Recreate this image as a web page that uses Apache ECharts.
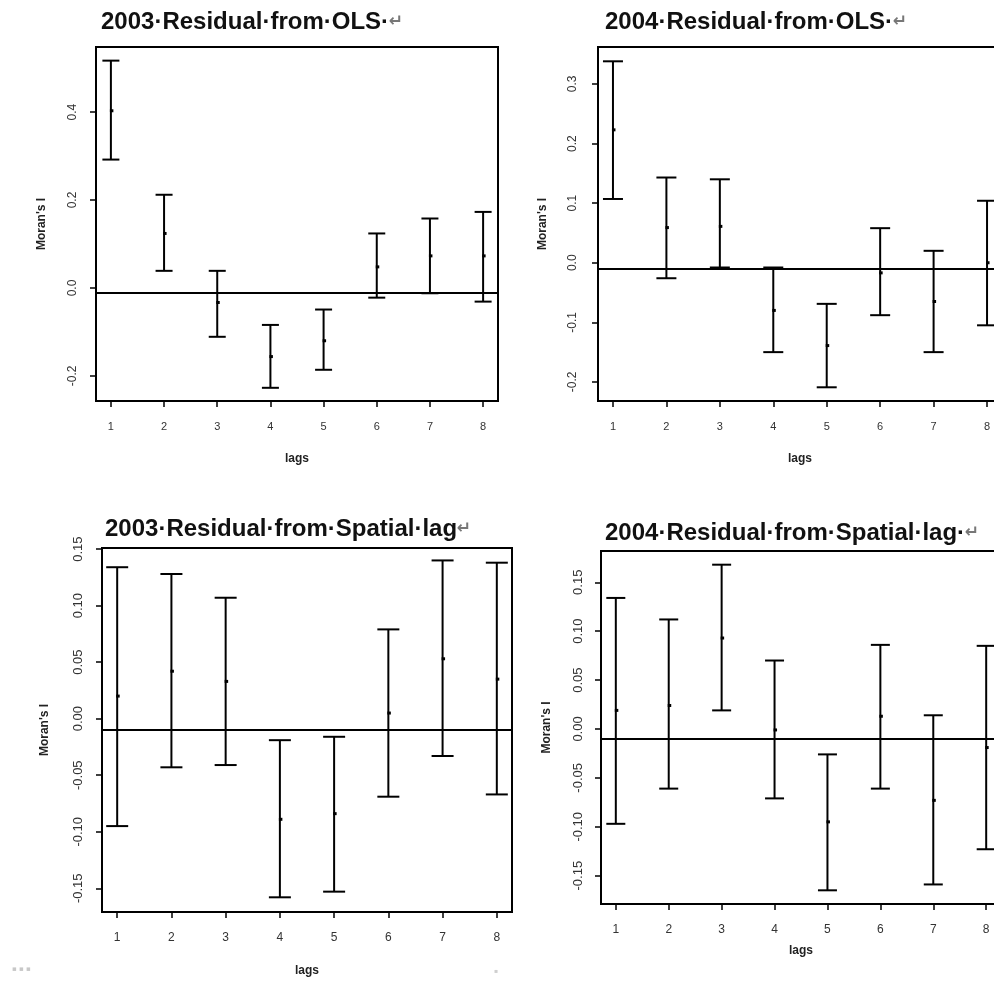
<!DOCTYPE html>
<html>
<head>
<meta charset="utf-8">
<script src="https://cdn.jsdelivr.net/npm/echarts@6/dist/echarts.min.js"></script>
<style>
html,body{margin:0;padding:0;background:#fff;}
#chart{width:994px;height:982px;}
</style>
</head>
<body>
<div id="chart"></div>
<script>
// ---------- data ----------
const lags = [1, 2, 3, 4, 5, 6, 7, 8];
const xTickLabels = ['1', '2', '3', '4', '5', '6', '7', '8'];
const titles = [
  '2003·Residual·from·OLS·',
  '2004·Residual·from·OLS·',
  '2003·Residual·from·Spatial·lag',
  '2004·Residual·from·Spatial·lag·'
];
const yAxisTitle = "Moran's I";
const xAxisTitle = 'lags';

// 2003 residual from OLS
const ols2003Upper = [0.517, 0.212, 0.039, -0.084, -0.049, 0.124, 0.158, 0.173];
const ols2003Mid   = [0.403, 0.124, -0.033, -0.156, -0.120, 0.048, 0.073, 0.073];
const ols2003Lower = [0.292, 0.039, -0.111, -0.227, -0.186, -0.022, -0.012, -0.031];

// 2004 residual from OLS
const ols2004Upper = [0.338, 0.143, 0.140, -0.008, -0.069, 0.058, 0.020, 0.104];
const ols2004Mid   = [0.223, 0.059, 0.061, -0.080, -0.139, -0.017, -0.065, 0.000];
const ols2004Lower = [0.107, -0.026, -0.008, -0.150, -0.209, -0.088, -0.150, -0.105];

// 2003 residual from spatial lag
const lag2003Upper = [0.134, 0.128, 0.107, -0.019, -0.016, 0.079, 0.140, 0.138];
const lag2003Mid   = [0.020, 0.042, 0.033, -0.089, -0.084, 0.005, 0.053, 0.035];
const lag2003Lower = [-0.095, -0.043, -0.041, -0.158, -0.153, -0.069, -0.033, -0.067];

// 2004 residual from spatial lag
const lag2004Upper = [0.134, 0.112, 0.168, 0.070, -0.026, 0.086, 0.014, 0.085];
const lag2004Mid   = [0.019, 0.024, 0.093, -0.001, -0.095, 0.013, -0.073, -0.019];
const lag2004Lower = [-0.097, -0.061, 0.019, -0.071, -0.165, -0.061, -0.159, -0.123];

// expected Moran's I (horizontal reference lines)
const expectedI = [-0.009, -0.0067, -0.0097, -0.0111];

// y tick values
const yTicksOls2003 = [-0.2, 0.0, 0.2, 0.4];
const yTicksOls2004 = [-0.2, -0.1, 0.0, 0.1, 0.2, 0.3];
const yTicksLag = [-0.15, -0.10, -0.05, 0.00, 0.05, 0.10, 0.15];

// ---------- layout ----------
const panels = [
  { upper: ols2003Upper, mid: ols2003Mid, lower: ols2003Lower, ticks: yTicksOls2003, dec: 1,
    grid: { left: 96, top: 47, width: 402, height: 354 }, ymin: -0.257, ymax: 0.548,
    title: { left: 101, top: 10 }, cap: 8.5, yNameGap: 48, xNameGap: 52, lblMargin: 17, yFont: 12, xFont: 11 },
  { upper: ols2004Upper, mid: ols2004Mid, lower: ols2004Lower, ticks: yTicksOls2004, dec: 1,
    grid: { left: 598, top: 47, width: 404, height: 354 }, ymin: -0.232, ymax: 0.362,
    title: { left: 605, top: 10 }, cap: 10, yNameGap: 49, xNameGap: 52, lblMargin: 19, yFont: 12, xFont: 11 },
  { upper: lag2003Upper, mid: lag2003Mid, lower: lag2003Lower, ticks: yTicksLag, dec: 2,
    grid: { left: 102, top: 548, width: 410, height: 364 }, ymin: -0.171, ymax: 0.151,
    title: { left: 105, top: 517 }, cap: 11, yNameGap: 51, xNameGap: 53, lblMargin: 17, yFont: 13, xFont: 12 },
  { upper: lag2004Upper, mid: lag2004Mid, lower: lag2004Lower, ticks: yTicksLag, dec: 2,
    grid: { left: 601, top: 551, width: 400, height: 353 }, ymin: -0.179, ymax: 0.182,
    title: { left: 605, top: 521 }, cap: 9.5, yNameGap: 48, xNameGap: 41, lblMargin: 16, yFont: 13, xFont: 12 }
];

const FONT = 'Liberation Sans, Arial, sans-serif';

const option = {
  backgroundColor: '#ffffff',
  animation: false,
  title: panels.map((p, i) => ({
    text: '{t|' + titles[i] + '}{r|\u21B5}',
    left: p.title.left,
    top: p.title.top,
    padding: 0,
    textStyle: {
      rich: {
        t: { fontFamily: FONT, fontWeight: 'bold', fontSize: 24, color: '#111' },
        r: { fontFamily: 'DejaVu Sans', fontSize: 17, color: '#777' }
      }
    }
  })),
  grid: panels.map(p => ({
    left: p.grid.left, top: p.grid.top, width: p.grid.width, height: p.grid.height,
    show: true, borderColor: '#000', borderWidth: 2, backgroundColor: 'transparent',
    containLabel: false, outerBoundsMode: 'none'
  })),
  xAxis: panels.map((p, i) => ({
    type: 'value', gridIndex: i, min: 0.72, max: 8.28,
    name: xAxisTitle, nameLocation: 'middle', nameGap: p.xNameGap,
    nameTextStyle: { fontFamily: FONT, fontWeight: 'bold', fontSize: 12, color: '#222' },
    axisLine: { show: true, onZero: false, lineStyle: { color: '#000', width: 2 } },
    axisTick: { show: true, inside: false, length: 6, customValues: lags,
      lineStyle: { color: '#000', width: 1.5 } },
    axisLabel: { show: true, customValues: lags, margin: 20,
      formatter: v => xTickLabels[lags.indexOf(Math.round(v))] || '',
      fontFamily: FONT, fontSize: p.xFont, color: '#333' },
    splitLine: { show: false }
  })),
  yAxis: panels.map((p, i) => ({
    type: 'value', gridIndex: i, min: p.ymin, max: p.ymax,
    name: yAxisTitle, nameLocation: 'middle', nameGap: p.yNameGap, nameRotate: 90,
    nameTextStyle: { fontFamily: FONT, fontWeight: 'bold', fontSize: 12, color: '#222' },
    axisLine: { show: true, onZero: false, lineStyle: { color: '#000', width: 2 } },
    axisTick: { show: true, inside: false, length: 6, customValues: p.ticks,
      lineStyle: { color: '#000', width: 1.5 } },
    axisLabel: { show: true, customValues: p.ticks, rotate: 90, margin: p.lblMargin,
      formatter: v => Number(v).toFixed(p.dec),
      fontFamily: FONT, fontSize: p.yFont, color: '#333' },
    splitLine: { show: false }
  })),
  series: panels.map((p, i) => ({
    type: 'custom',
    name: titles[i],
    xAxisIndex: i,
    yAxisIndex: i,
    coordinateSystem: 'cartesian2d',
    clip: false,
    encode: { x: 0, y: [1, 2, 3] },
    data: lags.map((l, j) => [l, p.lower[j], p.mid[j], p.upper[j]]),
    renderItem: function (params, api) {
      const x = api.value(0);
      const lo = api.coord([x, api.value(1)]);
      const md = api.coord([x, api.value(2)]);
      const hi = api.coord([x, api.value(3)]);
      const st = { stroke: '#000', lineWidth: 2 };
      return {
        type: 'group',
        children: [
          { type: 'line', shape: { x1: hi[0], y1: hi[1], x2: lo[0], y2: lo[1] }, style: st },
          { type: 'line', shape: { x1: hi[0] - p.cap, y1: hi[1], x2: hi[0] + p.cap, y2: hi[1] }, style: st },
          { type: 'line', shape: { x1: lo[0] - p.cap, y1: lo[1], x2: lo[0] + p.cap, y2: lo[1] }, style: st },
          { type: 'rect', shape: { x: md[0] - 1, y: md[1] - 1.5, width: 3.5, height: 3 }, style: { fill: '#000' } }
        ]
      };
    },
    markLine: {
      silent: true, symbol: 'none', animation: false,
      label: { show: false },
      lineStyle: { color: '#000', width: 2, type: 'solid' },
      data: [{ yAxis: expectedI[i] }]
    }
  })),
  graphic: [
    { type: 'text', left: 12, top: 966, style: { text: '\u25AA \u25AA \u25AA', fill: '#c8c8c8', font: '7px DejaVu Sans' } },
    { type: 'text', left: 494, top: 968, style: { text: '\u25AA', fill: '#cfcfcf', font: '6px DejaVu Sans' } }
  ]
};

const chart = echarts.init(document.getElementById('chart'), null, { renderer: 'canvas' });
chart.setOption(option);
</script>
</body>
</html>
